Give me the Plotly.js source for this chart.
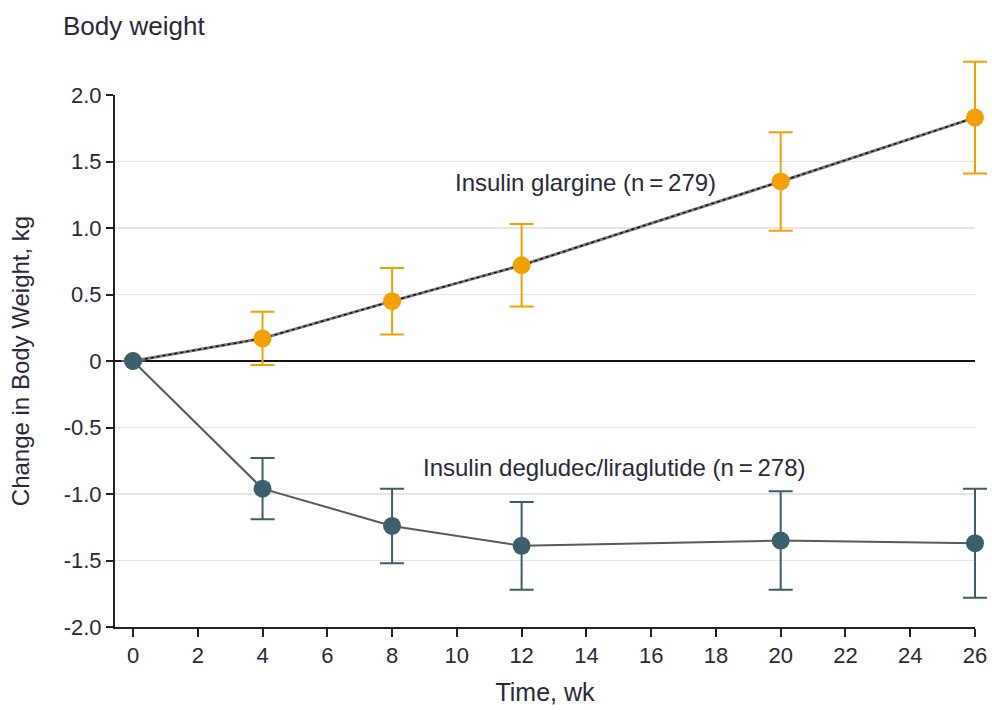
<!DOCTYPE html>
<html>
<head>
<meta charset="utf-8">
<script src="https://cdn.plot.ly/plotly-3.0.1.min.js"></script>
<style>html,body{margin:0;padding:0;background:#fff;}#chart{width:992px;height:710px;}</style>
</head>
<body>
<div id="chart"></div>
<script>
const weeks = [0, 4, 8, 12, 20, 26];
const glargine = [0, 0.17, 0.45, 0.72, 1.35, 1.83];
const glargineErr = [0, 0.20, 0.25, 0.31, 0.37, 0.42];
const degludec = [0, -0.96, -1.24, -1.39, -1.35, -1.37];
const degludecErr = [0, 0.23, 0.28, 0.33, 0.37, 0.41];
const xTicks = [0, 2, 4, 6, 8, 10, 12, 14, 16, 18, 20, 22, 24, 26];
const yTicks = [-2, -1.5, -1, -0.5, 0, 0.5, 1, 1.5, 2];
const yTickText = ['-2.0', '-1.5', '-1.0', '-0.5', '0', '0.5', '1.0', '1.5', '2.0'];

const FONT = '"Liberation Sans", Arial, sans-serif';
const ORANGE = '#F4A100';
const TEAL = '#3D5F6B';
const TXT = '#2a2a3a';

// geometry (pixels)
const W = 992, H = 710;
const L = 115, R = 0, T = 40, B = 83;
const plotW = W - L - R, plotH = H - T - B;
const mainW = 860, mainH = 532;
const xMin = -0.556, xMax = 26, yMin = -2, yMax = 2;
const pxPerX = mainW / (xMax - xMin), pxPerY = mainH / (yMax - yMin);

const traces = [
  {x: weeks, y: glargine, xaxis: 'x2', yaxis: 'y2', mode: 'lines', line: {color: '#7a7a7a', width: 3}, hoverinfo: 'skip'},
  {x: weeks, y: glargine, xaxis: 'x2', yaxis: 'y2', mode: 'lines', line: {color: '#111', width: 1.5, dash: 'dot'}, hoverinfo: 'skip'},
  {x: weeks, y: glargine, xaxis: 'x2', yaxis: 'y2', mode: 'markers', marker: {color: ORANGE, size: 18},
   error_y: {type: 'data', array: glargineErr, visible: true, color: ORANGE, thickness: 2, width: 12}},
  {x: weeks, y: degludec, xaxis: 'x2', yaxis: 'y2', mode: 'lines', line: {color: '#5a5a5a', width: 2}, hoverinfo: 'skip'},
  {x: weeks, y: degludec, xaxis: 'x2', yaxis: 'y2', mode: 'markers', marker: {color: TEAL, size: 18},
   error_y: {type: 'data', array: degludecErr, visible: true, color: TEAL, thickness: 2, width: 12}}
];

const layout = {
  width: W, height: H,
  margin: {l: L, r: R, t: T, b: B},
  paper_bgcolor: '#fff', plot_bgcolor: 'rgba(0,0,0,0)',
  showlegend: false,
  font: {family: FONT, size: 22, color: TXT},
  title: {text: 'Body weight', x: 63 / W, xref: 'container', xanchor: 'left', y: 1 - 26 / H, yref: 'container', yanchor: 'middle',
          font: {family: FONT, size: 26, color: TXT}},
  xaxis: {
    domain: [0, mainW / plotW], anchor: 'y',
    range: [xMin, xMax], tickvals: xTicks, ticktext: xTicks.map(String),
    showgrid: false, zeroline: false, showline: true, linecolor: '#222', linewidth: 2,
    ticks: 'outside', ticklen: 8, tickwidth: 2, tickcolor: '#222',
    tickfont: {family: FONT, size: 22, color: TXT},
    title: {text: 'Time, wk', font: {family: FONT, size: 25, color: TXT}, standoff: 16}
  },
  yaxis: {
    domain: [0, mainH / plotH], anchor: 'x',
    range: [yMin, yMax], tickvals: yTicks, ticktext: yTickText,
    showgrid: true, gridcolor: '#e6e6e6', gridwidth: 1.5,
    zeroline: true, zerolinecolor: '#111', zerolinewidth: 1.5,
    showline: true, linecolor: '#222', linewidth: 2,
    ticks: 'outside', ticklen: 7, tickwidth: 2, tickcolor: '#222',
    tickfont: {family: FONT, size: 22, color: TXT},
    title: {text: 'Change in Body Weight, kg', font: {family: FONT, size: 24, color: TXT}, standoff: 27}
  },
  xaxis2: {domain: [0, 1], anchor: 'y2', range: [xMin, xMin + plotW / pxPerX], visible: false, fixedrange: true},
  yaxis2: {domain: [0, 1], anchor: 'x2', range: [yMin, yMin + plotH / pxPerY], visible: false, fixedrange: true},
  annotations: [
    {x: 13.96, y: 1.34, xref: 'x', yref: 'y', text: 'Insulin glargine (n\u2009=\u2009279)', showarrow: false,
     xanchor: 'center', yanchor: 'middle', font: {family: FONT, size: 24, color: TXT}},
    {x: 14.88, y: -0.80, xref: 'x', yref: 'y', text: 'Insulin degludec/liraglutide (n\u2009=\u2009278)', showarrow: false,
     xanchor: 'center', yanchor: 'middle', font: {family: FONT, size: 24, color: TXT}}
  ]
};

Plotly.newPlot('chart', traces, layout, {displayModeBar: false, staticPlot: true});
</script>
</body>
</html>
